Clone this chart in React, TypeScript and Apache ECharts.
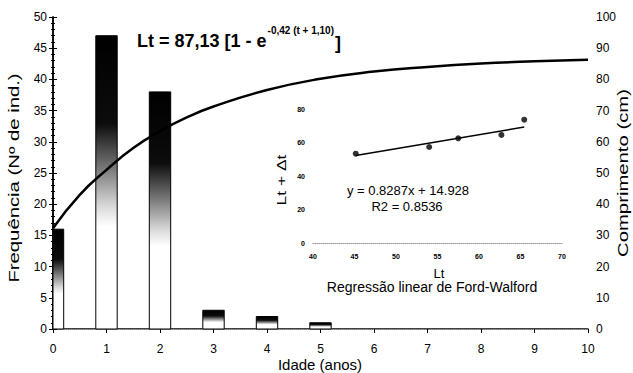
import React, { useEffect, useRef } from "react";
import * as echarts from "echarts";

// Frequency of individuals by age (bars)
const ages = [0, 1, 2, 3, 4, 5];
const frequency = [16, 47, 38, 3, 2, 1];
const barWidthYears = 0.4;
// Growth curve (length, cm)
const curveAges = [0, 0.5, 1, 1.5, 2, 2.5, 3, 4, 5, 6, 7, 8, 9, 10];
const curveLength = [32.3, 43, 51, 58, 63.4, 67.8, 71.3, 76.6, 80.2, 82.5, 84.0, 85.1, 85.8, 86.3];
// Ford-Walford inset
const fwLt = [45.15, 54.0, 57.5, 62.7, 65.45];
const fwLtNext = [53.3, 57.3, 62.5, 64.5, 73.6];
const fitLt = [45.15, 65.45];
const fitLtNext = [52.3, 69.2];

const leftTicks = { min: 0, max: 50, interval: 5 };
const rightTicks = { min: 0, max: 100, interval: 10 };
const xTicks = { min: 0, max: 10, interval: 1 };
const insetX = { min: 40, max: 70, interval: 5 };
const insetY = { min: 0, max: 80, interval: 20 };

const FONT = '"Liberation Sans", Arial, sans-serif';

function measure(text: string, font: string): number {
  const c = document.createElement("canvas").getContext("2d");
  if (!c) return text.length * 7;
  c.font = font;
  return c.measureText(text).width;
}

export default function App() {
  const ref = useRef<HTMLDivElement>(null);
  useEffect(() => {
    if (!ref.current) return;
    const chart = echarts.init(ref.current, undefined, { renderer: "svg" });
    const titleMain = "Lt = 87,13 [1 - e";
    const titleSup = "-0,42 (t + 1,10)";
    const tFont = `bold 18px ${FONT}`;
    const sFont = `bold 10px ${FONT}`;
    const tx = 137;
    const w1 = measure(titleMain, tFont);
    const w2 = measure(titleSup, sFont);

    const barGradient = new echarts.graphic.LinearGradient(0, 0, 0, 1, [
      { offset: 0, color: "#000" },
      { offset: 0.3, color: "#0c0c0c" },
      { offset: 0.45, color: "#777" },
      { offset: 0.58, color: "#d8d8d8" },
      { offset: 0.65, color: "#fff" },
      { offset: 1, color: "#fff" },
    ]);

    chart.setOption({
      animation: false,
      backgroundColor: "#fff",
      textStyle: { fontFamily: FONT, color: "#000" },
      grid: [
        { left: 53, right: 45, top: 17, bottom: 44, show: false },
        { left: 313, top: 109, width: 249, height: 134, show: false },
      ],
      xAxis: [
        {
          type: "value",
          gridIndex: 0,
          ...xTicks,
          axisLine: { show: true, lineStyle: { color: "#000", width: 1.5 } },
          axisTick: { show: true, length: 4, lineStyle: { color: "#000" } },
          axisLabel: { color: "#000", fontSize: 12, margin: 14, fontFamily: FONT },
          splitLine: { show: false },
        },
        {
          type: "value",
          gridIndex: 1,
          ...insetX,
          axisLine: { show: true, lineStyle: { color: "#999", type: "dotted" } },
          axisTick: { show: false },
          axisLabel: { color: "#000", fontSize: 7, fontWeight: "bold", margin: 10, fontFamily: FONT },
          splitLine: { show: false },
        },
        {
          type: "value",
          gridIndex: 0,
          position: "top",
          ...xTicks,
          axisLine: { show: true, lineStyle: { color: "#999", type: "dotted" } },
          axisTick: { show: false },
          axisLabel: { show: false },
          splitLine: { show: false },
        },
      ],
      yAxis: [
        {
          type: "value",
          gridIndex: 0,
          ...leftTicks,
          axisLine: { show: true, lineStyle: { color: "#000", width: 1.5 } },
          axisTick: { show: true, length: 4, lineStyle: { color: "#000" } },
          minorTick: { show: true, splitNumber: 5, length: 2, lineStyle: { color: "#000" } },
          axisLabel: { color: "#000", fontSize: 12, margin: 6, fontFamily: FONT },
          splitLine: { show: false },
        },
        {
          type: "value",
          gridIndex: 0,
          position: "right",
          ...rightTicks,
          axisLine: { show: true, lineStyle: { color: "#000", width: 1.5 } },
          axisTick: { show: true, length: 4, lineStyle: { color: "#000" } },
          minorTick: { show: true, splitNumber: 5, length: 2, lineStyle: { color: "#000" } },
          axisLabel: { color: "#000", fontSize: 12, margin: 8, fontFamily: FONT },
          splitLine: { show: false },
        },
        {
          type: "value",
          gridIndex: 1,
          ...insetY,
          axisLine: { show: false },
          axisTick: { show: false },
          axisLabel: { color: "#000", fontSize: 7, fontWeight: "bold", margin: 8, fontFamily: FONT },
          splitLine: { show: false },
        },
      ],
      series: [
        {
          type: "custom",
          xAxisIndex: 0,
          yAxisIndex: 0,
          encode: { x: 0, y: 1 },
          data: ages.map((a, i) => [a, frequency[i]]),
          renderItem: (params: any, api: any) => {
            const x = api.value(0);
            const y = api.value(1);
            const top = api.coord([x, y]);
            const base = api.coord([x, 0]);
            const w = api.size([barWidthYears, 0])[0];
            const cs = params.coordSys;
            const rect = echarts.graphic.clipRectByRect(
              { x: top[0] - w / 2, y: top[1], width: w, height: base[1] - top[1] },
              { x: cs.x, y: cs.y, width: cs.width, height: cs.height }
            );
            if (!rect) return null;
            return {
              type: "rect",
              shape: rect,
              style: { fill: barGradient, stroke: "#000", lineWidth: 1 },
            };
          },
        },
        {
          type: "line",
          xAxisIndex: 0,
          yAxisIndex: 1,
          smooth: true,
          showSymbol: false,
          data: curveAges.map((a, i) => [a, curveLength[i]]),
          lineStyle: { color: "#000", width: 2.5 },
        },
        {
          type: "line",
          xAxisIndex: 1,
          yAxisIndex: 2,
          showSymbol: false,
          data: fitLt.map((v, i) => [v, fitLtNext[i]]),
          lineStyle: { color: "#000", width: 1.5 },
        },
        {
          type: "scatter",
          xAxisIndex: 1,
          yAxisIndex: 2,
          symbolSize: 6,
          data: fwLt.map((v, i) => [v, fwLtNext[i]]),
          itemStyle: { color: "#000" },
        },
      ],
      graphic: [
        {
          type: "text",
          x: 14,
          y: 178,
          rotation: Math.PI / 2,
          scaleX: 1.45,
          style: { text: "Frequência (Nº de ind.)", font: `14px ${FONT}`, fill: "#000", align: "center", verticalAlign: "middle" },
        },
        {
          type: "text",
          x: 623,
          y: 173,
          rotation: Math.PI / 2,
          scaleX: 1.45,
          style: { text: "Comprimento (cm)", font: `14px ${FONT}`, fill: "#000", align: "center", verticalAlign: "middle" },
        },
        {
          type: "text",
          x: 320,
          y: 364,
          style: { text: "Idade (anos)", font: `15px ${FONT}`, fill: "#000", align: "center", verticalAlign: "middle" },
        },
        {
          type: "text",
          x: tx,
          y: 41,
          style: { text: titleMain, font: tFont, fill: "#000", align: "left", verticalAlign: "middle" },
        },
        {
          type: "text",
          x: tx + w1 + 1,
          y: 30,
          style: { text: titleSup, font: sFont, fill: "#000", align: "left", verticalAlign: "middle" },
        },
        {
          type: "text",
          x: tx + w1 + w2 + 2,
          y: 43,
          style: { text: "]", font: tFont, fill: "#000", align: "left", verticalAlign: "middle" },
        },
        {
          type: "text",
          x: 408,
          y: 190,
          style: { text: "y = 0.8287x + 14.928", font: `13px ${FONT}`, fill: "#000", align: "center", verticalAlign: "middle" },
        },
        {
          type: "text",
          x: 407,
          y: 206,
          style: { text: "R2 = 0.8536", font: `13px ${FONT}`, fill: "#000", align: "center", verticalAlign: "middle" },
        },
        {
          type: "text",
          x: 282,
          y: 180,
          rotation: Math.PI / 2,
          scaleX: 1.45,
          style: { text: "Lt + Δt", font: `12px ${FONT}`, fill: "#000", align: "center", verticalAlign: "middle" },
        },
        {
          type: "text",
          x: 439,
          y: 273,
          style: { text: "Lt", font: `13px ${FONT}`, fill: "#000", align: "center", verticalAlign: "middle" },
        },
        {
          type: "text",
          x: 432,
          y: 287,
          style: { text: "Regressão linear de Ford-Walford", font: `14px ${FONT}`, fill: "#000", align: "center", verticalAlign: "middle" },
        },
      ],
    });
    return () => chart.dispose();
  }, []);
  return <div ref={ref} style={{ width: 633, height: 373, position: "absolute", left: 0, top: 0 }} />;
}
